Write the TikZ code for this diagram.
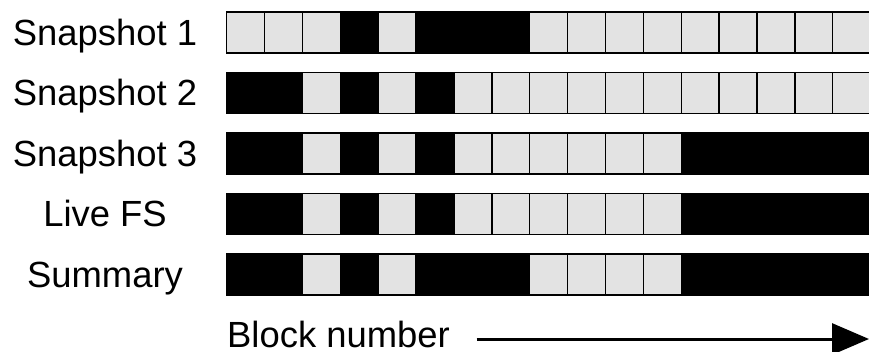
\documentclass[tikz,border=0pt]{standalone}
\usepackage{fontspec}
\setmainfont{Liberation Sans}
\usetikzlibrary{arrows.meta}

\definecolor{freegray}{RGB}{227,227,227}

\begin{document}
\begin{tikzpicture}[
    x=1pt, y=-1pt,
    cell/.style={rectangle, draw=black, line width=1.4pt, minimum width=37.875pt, minimum height=41pt, inner sep=0pt, outer sep=0pt, anchor=north west},
    free/.style={fill=freegray},
    used/.style={fill=black},
    rowname/.style={font=\fontsize{36.4}{40}\selectfont, anchor=base, inner sep=0pt},
    blockarrow/.style={-{Triangle[length=37pt, width=31pt]}, line width=3pt}
]

% Cadre
\useasboundingbox (0,0) rectangle (869,351);

% Noms des lignes
\node[rowname] (lsnap1) at (105, 45) {Snapshot 1};
\node[rowname] (lsnap2) at (105, 105.5) {Snapshot 2};
\node[rowname] (lsnap3) at (105, 166) {Snapshot 3};
\node[rowname] (llive) at (105, 226.5) {Live FS};
\node[rowname] (lsumm) at (105, 287) {Summary};

% Blocs
\foreach \s [count=\k from 0] in {free,free,free,used,free,used,used,used,free,free,free,free,free,free,free,free,free}
  \node[cell, \s] (snap1-\k) at ({226.7+\k*37.875}, 12) {};
\foreach \s [count=\k from 0] in {used,used,free,used,free,used,free,free,free,free,free,free,free,free,free,free,free}
  \node[cell, \s] (snap2-\k) at ({226.7+\k*37.875}, 72.5) {};
\foreach \s [count=\k from 0] in {used,used,free,used,free,used,free,free,free,free,free,free,used,used,used,used,used}
  \node[cell, \s] (snap3-\k) at ({226.7+\k*37.875}, 133) {};
\foreach \s [count=\k from 0] in {used,used,free,used,free,used,free,free,free,free,free,free,used,used,used,used,used}
  \node[cell, \s] (live-\k) at ({226.7+\k*37.875}, 193.5) {};
\foreach \s [count=\k from 0] in {used,used,free,used,free,used,used,used,free,free,free,free,used,used,used,used,used}
  \node[cell, \s] (summ-\k) at ({226.7+\k*37.875}, 254) {};

% Axe
\node[rowname, anchor=base west] (blocknum) at (227, 347) {Block number};
\coordinate (arrowstart) at (476.7, 339);
\coordinate (arrowend) at (869, 339);
\draw[blockarrow] (arrowstart) -- (arrowend);

\end{tikzpicture}
\end{document}
